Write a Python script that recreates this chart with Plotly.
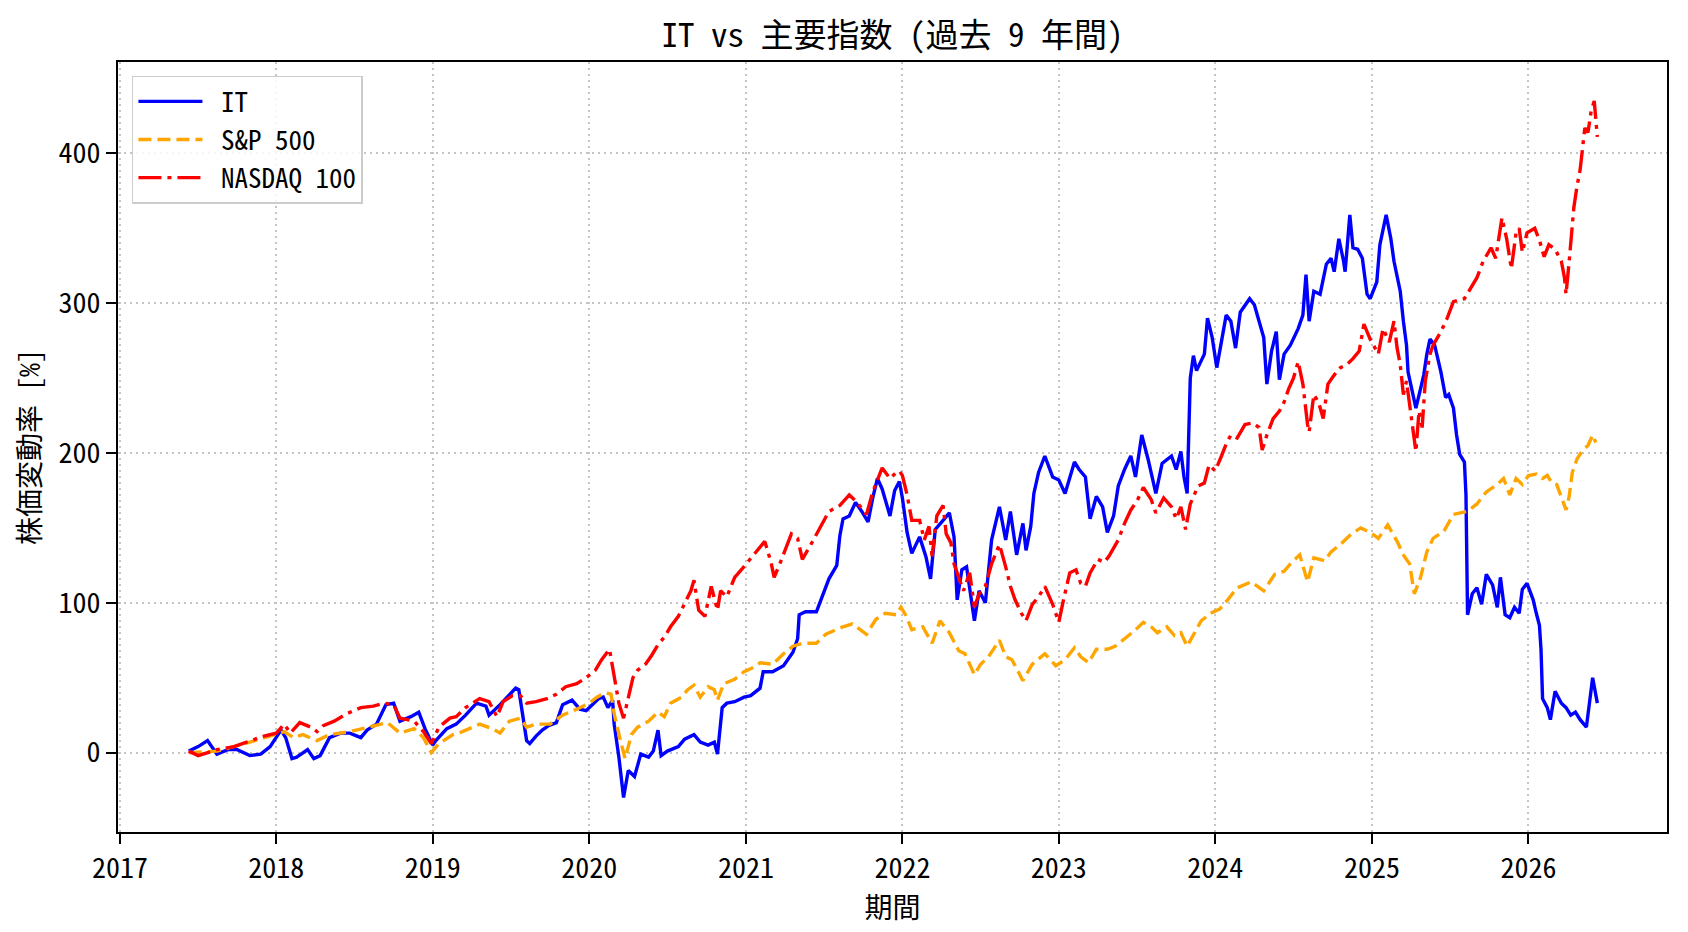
import pandas as pd
import plotly.graph_objects as go

# ---------------- data (decimal years, % change) ----------------
it_t = [2017.44, 2017.50, 2017.56, 2017.62, 2017.69, 2017.75, 2017.83, 2017.90, 2017.96, 2018.03,
        2018.06, 2018.10, 2018.13, 2018.20, 2018.24, 2018.28, 2018.34, 2018.41, 2018.47, 2018.54,
        2018.58, 2018.64, 2018.70, 2018.75, 2018.79, 2018.86, 2018.91, 2018.95, 2019.00, 2019.02,
        2019.09, 2019.15, 2019.21, 2019.28, 2019.34, 2019.36, 2019.43, 2019.49, 2019.53, 2019.55,
        2019.57, 2019.60, 2019.62, 2019.66, 2019.70, 2019.74, 2019.79, 2019.83, 2019.89, 2019.94,
        2019.98, 2020.03, 2020.06, 2020.09, 2020.12, 2020.15, 2020.16, 2020.19, 2020.22, 2020.25,
        2020.29, 2020.33, 2020.38, 2020.41, 2020.44, 2020.46, 2020.50, 2020.57, 2020.61, 2020.67,
        2020.71, 2020.76, 2020.80, 2020.82, 2020.85, 2020.88, 2020.93, 2020.99, 2021.03, 2021.09,
        2021.11, 2021.17, 2021.24, 2021.30, 2021.33, 2021.34, 2021.38, 2021.45, 2021.49, 2021.53,
        2021.58, 2021.60, 2021.62, 2021.66, 2021.70, 2021.74, 2021.78, 2021.81, 2021.84, 2021.87,
        2021.92, 2021.95, 2021.98, 2022.00, 2022.03, 2022.06, 2022.11, 2022.15, 2022.18, 2022.21,
        2022.26, 2022.30, 2022.33, 2022.35, 2022.38, 2022.41, 2022.46, 2022.49, 2022.53, 2022.57,
        2022.62, 2022.66, 2022.69, 2022.73, 2022.77, 2022.79, 2022.82, 2022.84, 2022.87, 2022.91,
        2022.96, 2023.00, 2023.04, 2023.10, 2023.13, 2023.17, 2023.20, 2023.24, 2023.28, 2023.31,
        2023.35, 2023.38, 2023.42, 2023.46, 2023.49, 2023.53, 2023.57, 2023.60, 2023.62, 2023.66,
        2023.72, 2023.75, 2023.78, 2023.80, 2023.82, 2023.84, 2023.86, 2023.88, 2023.93, 2023.95,
        2023.98, 2024.01, 2024.05, 2024.07, 2024.10, 2024.13, 2024.16, 2024.22, 2024.25, 2024.28,
        2024.31, 2024.33, 2024.36, 2024.39, 2024.41, 2024.44, 2024.48, 2024.53, 2024.56, 2024.58,
        2024.60, 2024.63, 2024.67, 2024.71, 2024.74, 2024.76, 2024.79, 2024.82, 2024.83, 2024.86,
        2024.88, 2024.91, 2024.94, 2024.97, 2024.99, 2025.03, 2025.05, 2025.09, 2025.12, 2025.14,
        2025.16, 2025.18, 2025.20, 2025.22, 2025.23, 2025.26, 2025.28, 2025.31, 2025.33, 2025.35,
        2025.37, 2025.40, 2025.44, 2025.47, 2025.49, 2025.52, 2025.54, 2025.56, 2025.59, 2025.60,
        2025.61, 2025.64, 2025.67, 2025.70, 2025.73, 2025.77, 2025.80, 2025.82, 2025.85, 2025.88,
        2025.91, 2025.94, 2025.96, 2025.99, 2026.03, 2026.05, 2026.07, 2026.08, 2026.09, 2026.12,
        2026.14, 2026.17, 2026.21, 2026.24, 2026.27, 2026.30, 2026.33, 2026.37, 2026.39, 2026.41,
        2026.44]
it_v = [1, 4, 8, -1, 2, 2, -2, -1, 4, 15,
        10, -4, -3, 2, -4, -2, 10, 13, 13, 10,
        15, 19, 32, 33, 21, 24, 27, 16, 5, 8,
        16, 19, 25, 33, 31, 25, 32, 39, 43, 42,
        27, 8, 6, 11, 15, 18, 20, 32, 35, 29,
        28, 33, 36, 37, 30, 35, 19, -3, -30, -12,
        -16, -1, -3, 1, 15, -2, 1, 4, 9, 12,
        7, 5, 7, -1, 30, 33, 34, 37, 38, 43,
        54, 54, 58, 67, 76, 92, 94, 94, 105, 116,
        125, 145, 156, 158, 167, 161, 154, 170, 183, 176,
        158, 175, 181, 170, 147, 133, 144, 131, 116, 149,
        155, 160, 144, 102, 122, 124, 88, 108, 100, 142,
        164, 142, 161, 132, 153, 135, 151, 173, 187, 198,
        184, 182, 173, 194, 189, 184, 156, 171, 164, 147,
        158, 178, 189, 198, 184, 212, 196, 182, 173, 193,
        198, 189, 201, 184, 173, 250, 265, 255, 266, 290,
        277, 257, 281, 292, 288, 270, 294, 303, 299, 288,
        277, 246, 268, 281, 249, 266, 272, 283, 292, 319,
        288, 308, 306, 326, 330, 321, 343, 328, 321, 359,
        337, 336, 330, 306, 303, 314, 339, 359, 343, 328,
        319, 308, 288, 272, 254, 239, 230, 243, 252, 266,
        276, 272, 254, 237, 239, 230, 212, 199, 194, 172,
        92, 106, 110, 99, 119, 112, 97, 117, 92, 90,
        97, 93, 109, 113, 102, 93, 85, 69, 36, 30,
        22, 41, 33, 30, 25, 27, 22, 17, 33, 50,
        33]

ndx_t = [2017.44, 2017.50, 2017.62, 2017.73, 2017.81, 2017.92, 2018.00, 2018.05, 2018.09, 2018.15,
         2018.22, 2018.26, 2018.30, 2018.37, 2018.45, 2018.54, 2018.62, 2018.69, 2018.75, 2018.79,
         2018.88, 2018.94, 2018.99, 2019.04, 2019.11, 2019.15, 2019.21, 2019.30, 2019.36, 2019.41,
         2019.45, 2019.51, 2019.56, 2019.60, 2019.66, 2019.73, 2019.79, 2019.85, 2019.92, 2019.98,
         2020.04, 2020.08, 2020.13, 2020.15, 2020.16, 2020.19, 2020.22, 2020.25, 2020.28, 2020.31,
         2020.36, 2020.40, 2020.44, 2020.48, 2020.52, 2020.57, 2020.61, 2020.65, 2020.67, 2020.70,
         2020.74, 2020.78, 2020.82, 2020.84, 2020.88, 2020.93, 2020.98, 2021.05, 2021.12, 2021.16,
         2021.18, 2021.22, 2021.29, 2021.33, 2021.36, 2021.41, 2021.47, 2021.53, 2021.60, 2021.66,
         2021.71, 2021.77, 2021.81, 2021.87, 2021.92, 2021.96, 2021.98, 2022.00, 2022.03, 2022.06,
         2022.11, 2022.14, 2022.17, 2022.19, 2022.22, 2022.26, 2022.28, 2022.31, 2022.33, 2022.36,
         2022.39, 2022.43, 2022.46, 2022.49, 2022.53, 2022.57, 2022.62, 2022.66, 2022.69, 2022.72,
         2022.76, 2022.79, 2022.83, 2022.87, 2022.91, 2022.96, 2023.00, 2023.03, 2023.07, 2023.11,
         2023.14, 2023.17, 2023.20, 2023.25, 2023.29, 2023.32, 2023.35, 2023.38, 2023.42, 2023.46,
         2023.50, 2023.54, 2023.59, 2023.62, 2023.67, 2023.72, 2023.75, 2023.78, 2023.81, 2023.84,
         2023.89, 2023.93, 2023.96, 2024.00, 2024.04, 2024.07, 2024.10, 2024.14, 2024.19, 2024.24,
         2024.28, 2024.30, 2024.33, 2024.37, 2024.41, 2024.44, 2024.47, 2024.50, 2024.53, 2024.56,
         2024.59, 2024.60, 2024.63, 2024.66, 2024.69, 2024.72, 2024.76, 2024.80, 2024.84, 2024.88,
         2024.92, 2024.95, 2024.99, 2025.04, 2025.07, 2025.11, 2025.14, 2025.16, 2025.18, 2025.20,
         2025.22, 2025.26, 2025.28, 2025.30, 2025.32, 2025.34, 2025.37, 2025.39, 2025.44, 2025.48,
         2025.52, 2025.59, 2025.63, 2025.67, 2025.71, 2025.76, 2025.79, 2025.83, 2025.86, 2025.89,
         2025.92, 2025.94, 2025.96, 2025.99, 2026.04, 2026.07, 2026.10, 2026.13, 2026.17, 2026.21,
         2026.23, 2026.24, 2026.26, 2026.28, 2026.29, 2026.31, 2026.33, 2026.36, 2026.38, 2026.40,
         2026.42, 2026.44]
ndx_v = [1, -2, 2, 4, 7, 11, 13, 19, 13, 20,
         17, 14, 18, 21, 26, 30, 31, 33, 32, 23,
         21, 14, 6, 17, 23, 24, 30, 36, 34, 24,
         34, 38, 38, 33, 34, 36, 39, 44, 46, 50,
         55, 62, 69, 57, 48, 33, 23, 37, 50, 55,
         59, 65, 72, 77, 84, 91, 100, 108, 115, 95,
         91, 111, 95, 108, 104, 117, 123, 132, 141, 127,
         117, 127, 146, 143, 129, 138, 149, 161, 165, 172,
         167, 159, 174, 190, 183, 187, 188, 185, 172, 155,
         155, 142, 151, 131, 158, 165, 146, 140, 126, 117,
         108, 120, 97, 106, 111, 126, 139, 124, 111, 102,
         93, 88, 99, 104, 111, 99, 87, 102, 120, 122,
         113, 111, 120, 129, 127, 131, 136, 142, 153, 162,
         168, 177, 169, 160, 170, 164, 156, 164, 149, 166,
         178, 180, 192, 188, 198, 206, 212, 210, 219, 220,
         217, 202, 212, 223, 228, 234, 243, 250, 261, 246,
         219, 214, 239, 234, 223, 246, 252, 257, 259, 263,
         268, 286, 276, 266, 283, 274, 288, 270, 259, 239,
         248, 217, 201, 228, 217, 248, 266, 272, 281, 290,
         301, 303, 310, 317, 328, 337, 330, 357, 343, 323,
         347, 350, 334, 347, 350, 342, 331, 339, 336, 328,
         317, 306, 328, 350, 364, 378, 389, 417, 414, 428,
         435, 411]

spx_t = [2017.44, 2017.62, 2017.83, 2018.00, 2018.05, 2018.11, 2018.17, 2018.26, 2018.34, 2018.47,
         2018.60, 2018.71, 2018.79, 2018.88, 2018.94, 2018.99, 2019.04, 2019.13, 2019.19, 2019.30,
         2019.38, 2019.43, 2019.49, 2019.56, 2019.60, 2019.66, 2019.75, 2019.83, 2019.92, 2020.00,
         2020.05, 2020.10, 2020.14, 2020.16, 2020.20, 2020.23, 2020.27, 2020.31, 2020.38, 2020.44,
         2020.48, 2020.52, 2020.59, 2020.63, 2020.67, 2020.71, 2020.76, 2020.80, 2020.82, 2020.86,
         2020.93, 2020.99, 2021.05, 2021.09, 2021.17, 2021.24, 2021.30, 2021.36, 2021.45, 2021.51,
         2021.62, 2021.68, 2021.77, 2021.83, 2021.89, 2021.96, 2021.99, 2022.02, 2022.06, 2022.13,
         2022.19, 2022.24, 2022.30, 2022.36, 2022.40, 2022.46, 2022.50, 2022.55, 2022.62, 2022.66,
         2022.70, 2022.77, 2022.83, 2022.91, 2022.98, 2023.04, 2023.10, 2023.14, 2023.19, 2023.24,
         2023.31, 2023.36, 2023.42, 2023.48, 2023.54, 2023.59, 2023.63, 2023.69, 2023.74, 2023.78,
         2023.82, 2023.87, 2023.91, 2023.97, 2024.03, 2024.08, 2024.14, 2024.23, 2024.31, 2024.38,
         2024.44, 2024.48, 2024.54, 2024.59, 2024.63, 2024.70, 2024.74, 2024.80, 2024.87, 2024.93,
         2024.99, 2025.04, 2025.10, 2025.16, 2025.20, 2025.24, 2025.27, 2025.31, 2025.35, 2025.39,
         2025.46, 2025.52, 2025.61, 2025.67, 2025.73, 2025.80, 2025.84, 2025.88, 2025.92, 2025.96,
         2026.00, 2026.05, 2026.09, 2026.12, 2026.15, 2026.18, 2026.21, 2026.24, 2026.26, 2026.28,
         2026.31, 2026.34, 2026.38, 2026.41, 2026.43]
spx_v = [0, 1, 7, 12, 14, 10, 12, 8, 12, 14,
         17, 20, 13, 16, 10, 0, 6, 12, 14, 19,
         16, 13, 21, 23, 17, 19, 19, 25, 29, 33,
         37, 40, 39, 26, 8, -4, 12, 17, 21, 27,
         24, 33, 37, 42, 45, 37, 44, 42, 35, 46,
         49, 54, 57, 60, 59, 66, 71, 73, 73, 79,
         84, 86, 79, 89, 93, 92, 97, 92, 82, 84,
         73, 88, 80, 68, 66, 52, 59, 64, 75, 64,
         62, 48, 59, 66, 58, 62, 70, 64, 60, 69,
         69, 71, 76, 81, 87, 84, 80, 84, 78, 80,
         71, 80, 88, 93, 96, 102, 110, 114, 108, 119,
         121, 126, 132, 114, 130, 128, 134, 139, 146, 150,
         147, 143, 152, 141, 132, 126, 106, 117, 134, 143,
         148, 159, 161, 166, 174, 179, 183, 172, 183, 179,
         185, 186, 183, 185, 180, 179, 171, 162, 171, 187,
         196, 201, 205, 212, 207]

series_names = ["IT", "S&P 500", "NASDAQ 100"]
x_range = [2016.99, 2026.885]
y_range = [-53, 461]
title_text = "IT vs 主要指数 (過去 9 年間)"
x_title = "期間"
y_title = "株価変動率 [%]"


def to_date(d):
    y = int(d)
    return pd.Timestamp(year=y, month=1, day=1) + pd.Timedelta(days=(d - y) * 365.25)


FONT = "Noto Sans Mono CJK JP, Noto Sans CJK JP, sans-serif"

fig = go.Figure()
series = [
    (series_names[0], it_t, it_v, "#0000ff", "solid"),
    (series_names[1], spx_t, spx_v, "#ffa500", "13px,6px"),
    (series_names[2], ndx_t, ndx_v, "#ff0000", "23px,6px,4px,6px"),
]
for name, t, v, color, dash in series:
    fig.add_trace(go.Scatter(
        x=[to_date(d) for d in t], y=v, mode="lines", name="\u00a0" + name,
        line=dict(color=color, width=3.4, dash=dash),
    ))

axis_common = dict(
    showline=True, linecolor="black", linewidth=2, mirror=True,
    ticks="outside", ticklen=10, tickwidth=2, tickcolor="black",
    showgrid=True, gridcolor="#c4c4c4", gridwidth=1.5, griddash="2px,4px",
    zeroline=False, tickfont=dict(family=FONT, size=28, color="black"),
)

fig.update_layout(
    width=1688, height=932,
    paper_bgcolor="white", plot_bgcolor="white",
    margin=dict(l=118, r=21, t=62, b=100),
    font=dict(family=FONT, size=28, color="black"),
    title=dict(text=title_text, x=0.5, xref="paper", y=1 - 35.5 / 932, yref="container",
               yanchor="middle", xanchor="center", font=dict(family=FONT, size=33, color="black")),
    xaxis=dict(type="date", range=[to_date(x_range[0]), to_date(x_range[1])],
               dtick="M12", tick0="2017-01-01", tickformat="%Y",
               title=dict(text=x_title, standoff=0, font=dict(family=FONT, size=28)),
               **axis_common),
    yaxis=dict(range=y_range, dtick=100, tick0=0,
               title=dict(text=y_title, standoff=10, font=dict(family=FONT, size=28)),
               **axis_common),
    legend=dict(x=0.009, y=0.982, xanchor="left", yanchor="top",
                bgcolor="rgba(255,255,255,0.85)", bordercolor="#cccccc", borderwidth=1.5,
                font=dict(family=FONT, size=27), itemwidth=64, tracegroupgap=0),
    showlegend=True,
)

fig.write_html("out.html")
